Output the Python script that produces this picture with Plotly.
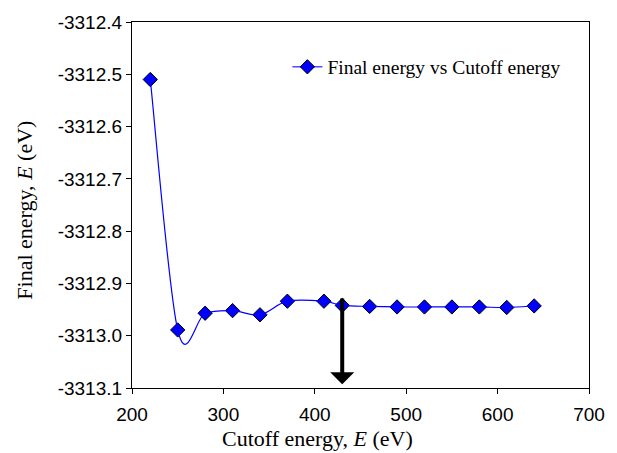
import plotly.graph_objects as go

cutoff = [220, 250, 280, 310, 340, 370, 410, 430, 460, 490, 520, 550, 580, 610, 640]
energy = [-3312.510, -3312.989, -3312.957, -3312.952, -3312.960, -3312.934, -3312.934,
          -3312.942, -3312.944, -3312.945, -3312.945, -3312.945, -3312.945, -3312.946, -3312.943]
series_name = "Final energy vs Cutoff energy"
x_ticks = [200, 300, 400, 500, 600, 700]
y_ticks = [-3312.4, -3312.5, -3312.6, -3312.7, -3312.8, -3312.9, -3313.0, -3313.1]
arrow_x = 430
arrow_from = -3312.926
arrow_to = -3313.093

BLUE = "#0000FF"


def smooth_path(xs, ys):
    """Excel-style smoothed line: cubic Bezier segments whose control points
    come from neighbouring data points (drawn in data coordinates)."""
    n = len(xs)
    parts = [f"M {xs[0]},{ys[0]}"]
    for i in range(n - 1):
        i0 = max(i - 1, 0)
        i3 = min(i + 2, n - 1)
        c1x = xs[i] + (xs[i + 1] - xs[i0]) / 6
        c1y = ys[i] + (ys[i + 1] - ys[i0]) / 6
        c2x = xs[i + 1] - (xs[i3] - xs[i]) / 6
        c2y = ys[i + 1] - (ys[i3] - ys[i]) / 6
        parts.append(f"C {c1x},{c1y} {c2x},{c2y} {xs[i + 1]},{ys[i + 1]}")
    return " ".join(parts)


fig = go.Figure()

# smoothed connecting line
fig.add_shape(type="path", xref="x", yref="y", path=smooth_path(cutoff, energy),
              line=dict(color=BLUE, width=1.2), layer="above")

# legend entry (line + marker)
fig.add_trace(go.Scatter(
    x=[None], y=[None], mode="lines+markers", name=series_name,
    line=dict(color="#4D4DFF", width=1.5),
    marker=dict(symbol="diamond", size=11, color=BLUE, line=dict(color="black", width=1)),
))

# data markers
fig.add_trace(go.Scatter(
    x=cutoff, y=energy, mode="markers", name=series_name, showlegend=False,
    marker=dict(symbol="diamond", size=11, color=BLUE, line=dict(color="black", width=1)),
))

fig.add_annotation(
    x=arrow_x, y=arrow_to, ax=arrow_x, ay=arrow_from,
    xref="x", yref="y", axref="x", ayref="y",
    showarrow=True, arrowhead=1, arrowsize=1, arrowwidth=4, arrowcolor="black", text="",
)

serif = "Liberation Serif, Times New Roman, serif"
sans = "Liberation Sans, Arial, sans-serif"

# axis titles
fig.add_annotation(text="Cutoff energy, <i>E</i> (eV)", xref="paper", yref="paper",
                   x=0.4056, y=-0.137, xanchor="center", yanchor="middle", showarrow=False,
                   font=dict(family=serif, size=22, color="black"))
fig.add_annotation(text="Final energy, <i>E</i> (eV)", xref="paper", yref="paper",
                   x=-0.236, y=0.485, xanchor="center", yanchor="middle", showarrow=False,
                   textangle=-90, font=dict(family=serif, size=22, color="black"))

fig.update_layout(
    width=617, height=453,
    margin=dict(l=132, r=19, t=22, b=65),
    paper_bgcolor="white", plot_bgcolor="white",
    showlegend=True,
    legend=dict(x=0.34, y=0.93, xanchor="left", yanchor="top",
                font=dict(family=serif, size=19.5, color="black"),
                bgcolor="rgba(0,0,0,0)"),
    xaxis=dict(range=[200, 700], tickvals=x_ticks, ticktext=[str(v) for v in x_ticks],
               showgrid=False, zeroline=False, showline=True, linecolor="black",
               linewidth=1.2, mirror=True, ticks="outside", ticklen=5, tickcolor="black",
               ticklabelstandoff=4,
               tickfont=dict(family=sans, size=19, color="black")),
    yaxis=dict(range=[-3313.1, -3312.4], tickvals=y_ticks,
               ticktext=[f"{v:.1f}" for v in y_ticks],
               showgrid=False, zeroline=False, showline=True, linecolor="black",
               linewidth=1.2, mirror=True, ticks="outside", ticklen=5, tickcolor="black",
               tickfont=dict(family=sans, size=19, color="black")),
)

fig.write_html("out.html")
